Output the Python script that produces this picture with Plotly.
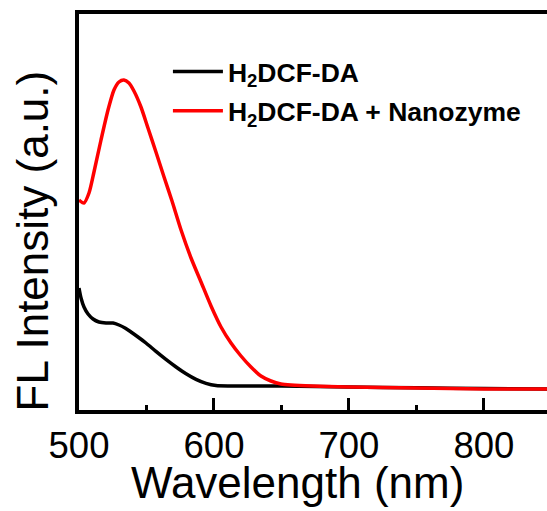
import plotly.graph_objects as go

# Emission spectra (arbitrary units)
wl_probe = [500.0, 501.5, 503.7, 506.7, 510.4, 514.8, 520.0, 525.2, 529.6, 534.1,
            538.5, 543.7, 549.6, 557.0, 564.4, 571.9, 579.3, 586.7, 594.1, 601.5,
            612.6, 650, 700, 750, 800, 847]
fl_probe = [605, 555, 510, 475, 450, 435, 430, 430, 420, 405,
            385, 360, 330, 288, 248, 210, 176, 148, 128, 117,
            115, 115, 110, 106, 102, 100]

wl_nano = [500.0, 503.7, 507.4, 511.1, 516.3, 521.5, 525.9, 529.6, 533.3, 537.0,
           540.7, 545.9, 551.1, 557.0, 563.0, 568.9, 575.6, 583.0, 590.4, 597.8,
           605.2, 612.6, 620.0, 627.4, 634.8, 642.2, 649.6, 657.0, 700, 750, 800, 847]
fl_nano = [1045, 1030, 1080, 1185, 1345, 1495, 1595, 1635, 1645, 1630,
           1590, 1510, 1405, 1285, 1160, 1040, 895, 755, 635, 515,
           410, 330, 265, 210, 165, 140, 125, 120, 110, 105, 100, 100]

x_ticks = [500, 600, 700, 800]
label_probe = "<b>H<sub>2</sub>DCF-DA</b>"
label_nano = "<b>H<sub>2</sub>DCF-DA + Nanozyme</b>"

FONT = "Liberation Sans, Arial, sans-serif"

fig = go.Figure()
fig.add_trace(go.Scatter(x=wl_probe, y=fl_probe, mode="lines", name=label_probe,
                         legendgroup="a",
                         line=dict(color="#000000", width=3.5, shape="spline", smoothing=0.7)))
fig.add_trace(go.Scatter(x=wl_nano, y=fl_nano, mode="lines", name=label_nano,
                         legendgroup="b",
                         line=dict(color="#FF0000", width=3.5, shape="spline", smoothing=0.7)))

fig.update_layout(
    width=547, height=511,
    margin=dict(l=79, r=0, t=14, b=101),
    plot_bgcolor="white", paper_bgcolor="white",
    font=dict(family=FONT, color="black"),
    showlegend=True,
    legend=dict(x=0.19, y=0.915, xanchor="left", yanchor="top",
                bgcolor="rgba(0,0,0,0)", itemwidth=50,
                font=dict(size=26.5, family=FONT, color="black"),
                tracegroupgap=2),
    annotations=[
        dict(text="Wavelength (nm)", x=(297.5 - 79) / 468, y=(410 - 482) / 396,
             xref="paper", yref="paper", xanchor="center", yanchor="middle",
             showarrow=False, font=dict(size=44, family=FONT)),
        dict(text="FL Intensity (a.u.)", x=(32 - 79) / 468, y=(410 - 241.5) / 396,
             xref="paper", yref="paper", xanchor="center", yanchor="middle",
             showarrow=False, textangle=-90, font=dict(size=44, family=FONT)),
    ],
)

fig.update_xaxes(
    range=[500, 846.7], tickvals=x_ticks, ticktext=[str(v) for v in x_ticks],
    ticks="inside", ticklen=12, tickwidth=2.5, tickcolor="black",
    minor=dict(dtick=50, ticks="inside", ticklen=5, tickwidth=2.5, tickcolor="black", tick0=500),
    showline=True, linewidth=3.5, linecolor="black", mirror=True,
    showgrid=False, zeroline=False,
    tickfont=dict(size=36.5, family=FONT, color="black"),
)
fig.update_yaxes(
    range=[-5, 1975], showticklabels=False, ticks="",
    showline=True, linewidth=3.5, linecolor="black", mirror=False,
    showgrid=False, zeroline=False,
)

fig.write_html("out.html")
